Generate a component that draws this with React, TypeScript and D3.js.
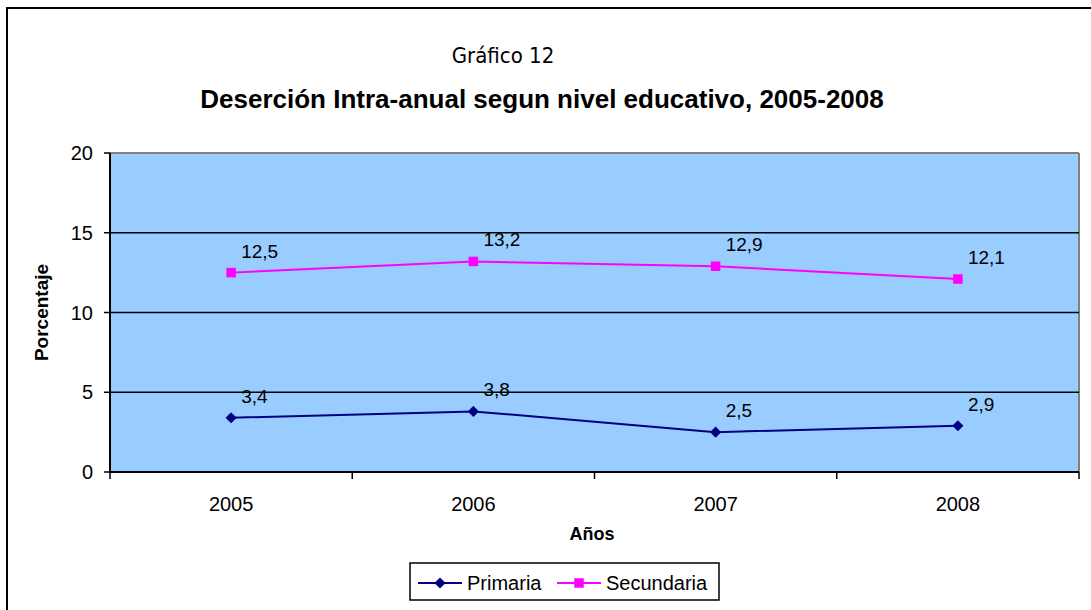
import * as React from 'react';
import { scaleLinear, scaleBand, line as d3line, symbol, symbolSquare } from 'd3';

const years = ['2005', '2006', '2007', '2008'];
const primaria = [3.4, 3.8, 2.5, 2.9];
const secundaria = [12.5, 13.2, 12.9, 12.1];
const yTicks = [0, 5, 10, 15, 20];

const W = 1091;
const H = 610;
const plot = { left: 110, right: 1079, top: 153, bottom: 472 };
const SANS = '"Liberation Sans", Arial, sans-serif';

const fmt = (v: number) => v.toFixed(1).replace('.', ',');

export default function App() {
  const x = scaleBand<string>().domain(years).range([plot.left, plot.right]);
  const y = scaleLinear().domain([0, 20]).range([plot.bottom, plot.top]);
  const cx = (yr: string) => (x(yr) ?? 0) + x.bandwidth() / 2;

  // diamond = square turned 45deg, wider than d3's symbolDiamond
  const series = [
    { name: 'Primaria', values: primaria, color: '#000080', rot: 45, size: 62 },
    { name: 'Secundaria', values: secundaria, color: '#FF00FF', rot: 0, size: 90 },
  ];
  const marker = (size: number) => symbol().type(symbolSquare).size(size)() ?? '';

  const mkLine = (vals: number[]) =>
    d3line<number>().x((_, i) => cx(years[i])).y(v => y(v))(vals) ?? '';

  const bounds = [...years.map(yr => x(yr) ?? 0), plot.right];

  return (
    <svg width={W} height={H} style={{ position: 'absolute', left: 0, top: 0, display: 'block' }}
      fontFamily={SANS}>
      <rect x={0} y={0} width={W} height={H} fill="#fff" />
      {/* outer chart border, runs off the right and bottom edges */}
      <rect x={7} y={8} width={W + 20} height={H + 20} fill="none" stroke="#000" strokeWidth={2} />

      <text x={503} y={63} textAnchor="middle" fontFamily='"DejaVu Sans Condensed", "DejaVu Sans", sans-serif'
        fontSize={22} fill="#000">Gráfico 12</text>
      <text x={542} y={108} textAnchor="middle" fontWeight="bold" fontSize={26} fill="#000">
        Deserción Intra-anual segun nivel educativo, 2005-2008
      </text>

      {/* plot area */}
      <rect x={plot.left} y={plot.top} width={plot.right - plot.left} height={plot.bottom - plot.top}
        fill="#99CCFF" />
      <line x1={plot.left} x2={plot.right} y1={plot.top} y2={plot.top} stroke="#808080" strokeWidth={2} />
      <line x1={plot.right} x2={plot.right} y1={plot.top} y2={plot.bottom} stroke="#808080" strokeWidth={2} />
      {yTicks.filter(t => t > 0 && t < 20).map(t => (
        <line key={t} x1={plot.left} x2={plot.right} y1={y(t)} y2={y(t)} stroke="#000" strokeWidth={1.5} />
      ))}

      {/* y axis */}
      <line x1={plot.left} x2={plot.left} y1={plot.top} y2={plot.bottom} stroke="#000" strokeWidth={2} />
      {yTicks.map(t => (
        <g key={t}>
          <line x1={plot.left - 6} x2={plot.left} y1={y(t)} y2={y(t)} stroke="#000" strokeWidth={1.5} />
          <text x={93} y={y(t) + 7} textAnchor="end" fontSize={20} fill="#000">{t}</text>
        </g>
      ))}
      <text transform={`translate(48,${(plot.top + plot.bottom) / 2}) rotate(-90)`} textAnchor="middle"
        fontWeight="bold" fontSize={19} fill="#000">Porcentaje</text>

      {/* x axis */}
      <line x1={plot.left} x2={plot.right} y1={plot.bottom} y2={plot.bottom} stroke="#000" strokeWidth={2} />
      {bounds.map((b, i) => (
        <line key={i} x1={b} x2={b} y1={plot.bottom} y2={plot.bottom + 7} stroke="#000" strokeWidth={1.5} />
      ))}
      {years.map(yr => (
        <text key={yr} x={cx(yr)} y={511} textAnchor="middle" fontSize={20} fill="#000">{yr}</text>
      ))}
      <text x={592} y={540} textAnchor="middle" fontWeight="bold" fontSize={18} fill="#000">Años</text>

      {/* series */}
      {series.map(s => (
        <g key={s.name}>
          <path d={mkLine(s.values)} fill="none" stroke={s.color} strokeWidth={2} />
          {s.values.map((v, i) => (
            <path key={i} transform={`translate(${cx(years[i])},${y(v)}) rotate(${s.rot})`}
              d={marker(s.size)} fill={s.color} />
          ))}
          {s.values.map((v, i) => (
            <text key={'l' + i} x={cx(years[i]) + 10} y={y(v) - 15} fontSize={19} fill="#000">{fmt(v)}</text>
          ))}
        </g>
      ))}

      {/* legend */}
      <rect x={410} y={563} width={309} height={37} fill="#fff" stroke="#000" strokeWidth={1.5} />
      {series.map((s, i) => {
        const lx = i === 0 ? 418 : 557;
        const ly = 583;
        return (
          <g key={s.name}>
            <line x1={lx} x2={lx + 44} y1={ly} y2={ly} stroke={s.color} strokeWidth={2} />
            <path transform={`translate(${lx + 22},${ly}) rotate(${s.rot})`} d={marker(s.size)}
              fill={s.color} />
            <text x={lx + 49} y={ly + 7} fontSize={20} fill="#000">{s.name}</text>
          </g>
        );
      })}
    </svg>
  );
}
